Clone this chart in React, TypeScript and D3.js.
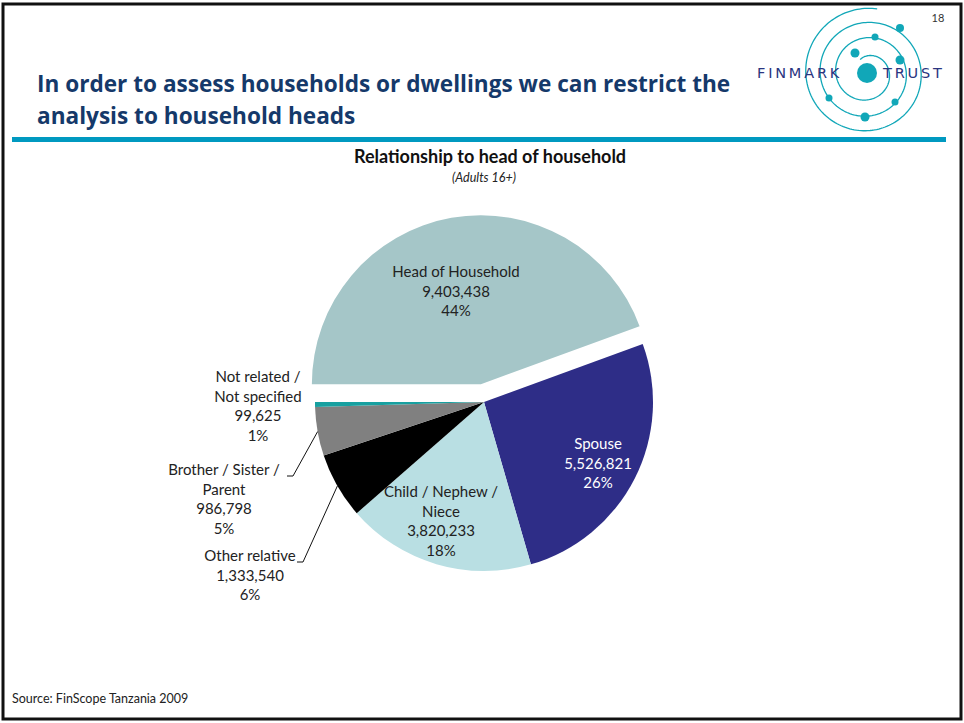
import React from "react";
import * as d3 from "d3";

const categories = [
  "Head of Household",
  "Spouse",
  "Child / Nephew / Niece",
  "Other relative",
  "Brother / Sister / Parent",
  "Not related / Not specified",
];
const values = [9403438, 5526821, 3820233, 1333540, 986798, 99625];
const valueLabels = ["9,403,438", "5,526,821", "3,820,233", "1,333,540", "986,798", "99,625"];
const percentLabels = ["44%", "26%", "18%", "6%", "5%", "1%"];
const nameLines = [
  ["Head of Household"],
  ["Spouse"],
  ["Child / Nephew /", "Niece"],
  ["Other relative"],
  ["Brother / Sister /", "Parent"],
  ["Not related /", "Not specified"],
];
const colors = ["#a5c6c8", "#2e2d87", "#b9dfe3", "#000000", "#808080", "#17a0a0"];
const textColors = ["#222", "#fff", "#222", "#222", "#222", "#222"];

const W = 964;
const H = 723;
const FONT = "Lato, 'Open Sans', sans-serif";

// layout for labels: [x, y of first line]
const labelPos: [number, number][] = [
  [456, 277],
  [598, 449],
  [441, 497],
  [250, 561],
  [224, 475],
  [258, 382],
];
const leaderIdx = [3, 4];

// logo decoration
const logoDots: [number, number, number][] = [
  [900, 28, 4],
  [875, 37, 3.5],
  [855, 53, 4.5],
  [900, 60, 4.5],
  [829, 98, 3.5],
  [895, 102, 3.5],
  [865, 117, 4.5],
];

export default function App() {
  const cx = 484;
  const cy = 402;
  const r = 169;
  const explode = 18;

  const pie = d3
    .pie<number>()
    .sort(null)
    .value((d) => d)
    .startAngle(-Math.PI / 2)
    .endAngle(1.5 * Math.PI);
  const arcs = pie(values);
  const arcGen = d3.arc<d3.PieArcDatum<number>>().innerRadius(0).outerRadius(r);

  // logo spiral
  const lcx = 867;
  const lcy = 73;
  const spiralPts: [number, number][] = [];
  const turns = 3.1;
  const a0 = -Math.PI * 0.15;
  for (let i = 0; i <= 500; i++) {
    const t = i / 500;
    const ang = a0 + t * turns * 2 * Math.PI;
    const rr = 15 + 50 * Math.pow(t, 0.85);
    spiralPts.push([lcx + rr * Math.sin(ang), lcy - rr * Math.cos(ang)]);
  }
  const spiralPath = d3.line()(spiralPts) || "";

  return (
    <svg
      width={W}
      height={H}
      style={{ position: "absolute", left: 0, top: 0, background: "#fff" }}
      fontFamily={FONT}
    >
      <rect x={0} y={0} width={W} height={H} fill="#fff" />
      {/* slide frame */}
      <rect x={3} y={4} width={958} height={715} fill="none" stroke="#111" strokeWidth={3} />

      {/* page number */}
      <text x={938} y={22} fontSize={11} fill="#333" textAnchor="middle">18</text>

      {/* title */}
      <g fontFamily="'Open Sans', Lato, sans-serif" fontSize={22.6} fontWeight={700} fill="#15396a">
        <text x={37} y={92}>In order to assess households or dwellings we can restrict the</text>
        <text x={37} y={124}>analysis to household heads</text>
      </g>
      <rect x={12} y={137} width={934} height={5} fill="#0099c0" />

      {/* logo */}
      <g>
        <path d={spiralPath} fill="none" stroke="#11a7b8" strokeWidth={1.3} />
        <circle cx={lcx} cy={lcy} r={10} fill="#11a7b8" />
        {logoDots.map(([x, y, rr], i) => (
          <circle key={i} cx={x} cy={y} r={rr} fill="#11a7b8" />
        ))}
        <g fontSize={14.5} fill="#2a3580" letterSpacing={2.8} fontFamily="'DejaVu Sans', sans-serif">
          <text x={757} y={78}>FINMARK</text>
          <text x={883} y={78}>TRUST</text>
        </g>
      </g>

      {/* chart title */}
      <text x={490} y={163} fontSize={18} fontWeight={700} fill="#111" textAnchor="middle">
        Relationship to head of household
      </text>
      <text x={cx} y={182} fontSize={12.5} fontStyle="italic" fill="#222" textAnchor="middle">
        (Adults 16+)
      </text>

      {/* pie */}
      <g transform={`translate(${cx},${cy})`}>
        {arcs.map((a, i) => {
          const mid = (a.startAngle + a.endAngle) / 2;
          const off = i === 0 ? explode : 0;
          const dx = off * Math.sin(mid);
          const dy = -off * Math.cos(mid);
          return (
            <path
              key={categories[i]}
              d={arcGen(a) || ""}
              transform={`translate(${dx},${dy})`}
              fill={colors[i]}
            />
          );
        })}
      </g>

      {/* leader lines */}
      {leaderIdx.map((i) => {
        const a = arcs[i];
        const mid = (a.startAngle + a.endAngle) / 2;
        const px = cx + r * Math.sin(mid);
        const py = cy - r * Math.cos(mid);
        const [lx, ly] = labelPos[i];
        const lineEnd = i === 4 ? lx + 63 : lx + 47;
        const yy = ly + 1;
        return (
          <polyline
            key={"l" + i}
            points={`${px},${py} ${lineEnd + 6},${yy} ${lineEnd},${yy}`}
            fill="none"
            stroke="#111"
            strokeWidth={1}
          />
        );
      })}

      {/* labels */}
      {arcs.map((a, i) => {
        const [lx, ly] = labelPos[i];
        const lines = [...nameLines[i], valueLabels[i], percentLabels[i]];
        return (
          <text key={"t" + i} x={lx} y={ly} fontSize={15} fill={textColors[i]} textAnchor="middle">
            {lines.map((s, k) => (
              <tspan key={k} x={lx} y={ly + k * 19.5}>
                {s}
              </tspan>
            ))}
          </text>
        );
      })}

      {/* source */}
      <text x={12} y={703} fontSize={12.5} fill="#222">Source: FinScope Tanzania 2009</text>
    </svg>
  );
}
